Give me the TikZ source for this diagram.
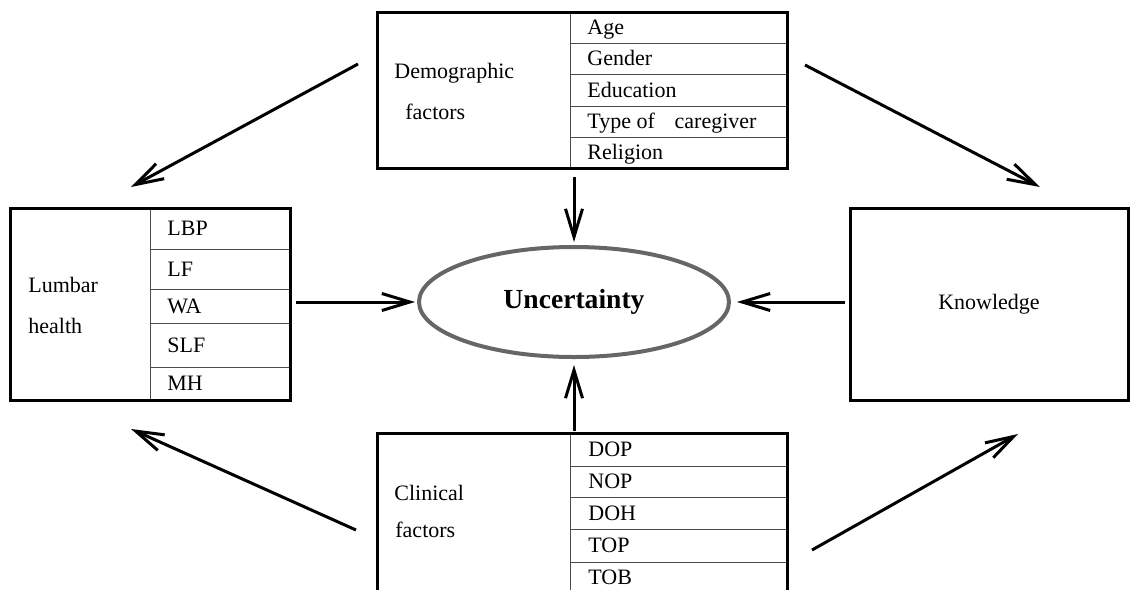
\documentclass[tikz,border=0pt]{standalone}
\usepackage{fontspec}
\setmainfont{Liberation Serif}
\usetikzlibrary{arrows.meta, shapes.geometric}

\tikzset{
  frame/.style={line width=1.5pt},
  cell/.style={line width=0.5pt, draw=black!70},
  lbl/.style={anchor=west, inner sep=0pt, text height=7.3pt, text depth=0pt, font=\fontsize{11}{13}\selectfont},
  arr/.style={line width=1.5pt, -{Straight Barb[length=14pt, width=8.5pt]}},
}

\begin{document}
\begin{tikzpicture}[x=0.5pt, y=-0.5pt]
                \useasboundingbox (0,0) rectangle (1130,590);
                % demographic factors
                \draw[cell] (570,12) -- (570,168);
                \foreach \y in {43,74,106,137} \draw[cell] (570,\y) -- (787,\y);
                \node[frame, draw, minimum width=205pt, minimum height=78pt] (demo) at (582,90) {};
                \node[lbl] (demoA) at (394,71.5) {Demographic};
                \node[lbl] (demoB) at (405,112) {factors};
                \foreach \t/\y [count=\i] in {Age/27.5, Gender/58.5, Education/90, {Type of\hspace{0.9em}caregiver}/121.5, Religion/152.5}
                    \node[lbl] (demo\i) at (587,\y) {\t};
                % lumbar health
                \draw[cell] (150,208) -- (150,400);
                \foreach \y in {249,289,323,367} \draw[cell] (150,\y) -- (290,\y);
                \node[frame, draw, minimum width=140pt, minimum height=96pt] (lumb) at (150,304) {};
                \node[lbl] (lumbA) at (28,285.5) {Lumbar};
                \node[lbl] (lumbB) at (28,326) {health};
                \foreach \t/\y [count=\i] in {LBP/228.5, LF/269, WA/306, SLF/345, MH/383.5}
                    \node[lbl] (lumb\i) at (167,\y) {\t};
                % clinical factors
                \draw[cell] (570,433) -- (570,590);
                \foreach \y in {466,497,529,562} \draw[cell] (570,\y) -- (787,\y);
                \draw[frame] (377,590) |- (787,433) -- (787,590);
                \node[lbl] (clinA) at (394,493) {Clinical};
                \node[lbl] (clinB) at (395,530) {factors};
                \foreach \t/\y [count=\i] in {DOP/449.5, NOP/481.5, DOH/513, TOP/545.5, TOB/577}
                    \node[lbl] (clin\i) at (588,\y) {\t};
                % knowledge and uncertainty
                \node[frame, draw, minimum width=139pt, minimum height=96pt, font=\fontsize{11}{13}\selectfont] (know) at (989,304) {Knowledge};
                \node[ellipse, draw=black!60, line width=2pt, minimum width=155pt, minimum height=55pt, inner sep=0pt,
                      font=\bfseries\fontsize{13.8}{16}\selectfont] (unc) at (574,302) {Uncertainty};
                % arrows
                \coordinate (dl0) at (358,64);   \coordinate (dl1) at (131,187);
                \coordinate (dr0) at (805,65);   \coordinate (dr1) at (1040,187);
                \coordinate (cl0) at (356,530);  \coordinate (cl1) at (131,429);
                \coordinate (cr0) at (812,550);  \coordinate (cr1) at (1018,434);
                \coordinate (dc0) at (574,177);  \coordinate (cc0) at (574,431);
                \coordinate (lu0) at (296,302);  \coordinate (ku0) at (845,302);
                \draw[arr] (dl0) -- (dl1);
                \draw[arr] (dr0) -- (dr1);
                \draw[arr] (cl0) -- (cl1);
                \draw[arr] (cr0) -- (cr1);
                \draw[arr, shorten >=1.5pt] (dc0) -- (unc.north);
                \draw[arr, shorten >=3pt] (cc0) -- (unc.south);
                \draw[arr, shorten >=1pt] (lu0) -- (unc.west);
                \draw[arr, shorten >=3pt] (ku0) -- (unc.east);
\end{tikzpicture}
\end{document}
